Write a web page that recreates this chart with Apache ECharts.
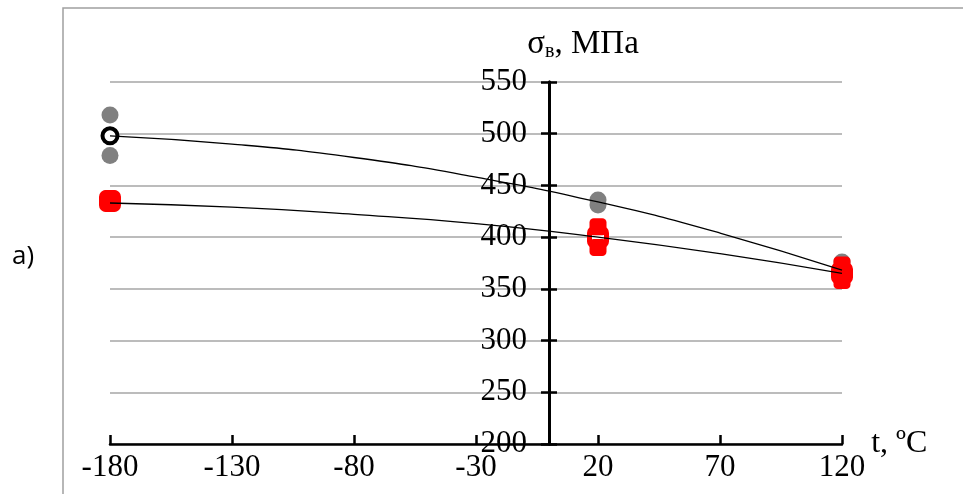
<!DOCTYPE html>
<html>
<head>
<meta charset="utf-8">
<script src="https://cdn.jsdelivr.net/npm/echarts@6/dist/echarts.min.js"></script>
<style>
  html, body { margin: 0; padding: 0; background: #fff; }
  #chart { width: 963px; height: 494px; }
</style>
</head>
<body>
<div id="chart"></div>
<script>
// x ticks (temperature, °C) and y ticks (MPa)
const xTicks = [-180, -130, -80, -30, 20, 70, 120];
const yMin = 200, yMax = 550, yStep = 50;

// individual test results
const grayPoints = [[-180, 518], [-180, 479], [20, 436], [20, 431], [120, 376]];
const blackMean = [[-180, 498]];
const redMean = [[-180, 435], [20, 400], [120, 365]];
const redPoints = [[-180, 437], [-180, 433], [20, 410], [20, 390], [120, 373], [120, 358]];

// trend curves
const upperTrend = [[-180, 498], [-130, 490], [-80, 477], [-30, 458], [20, 434], [70, 404], [120, 368]];
const lowerTrend = [[-180, 433], [-130, 429], [-80, 422], [-30, 413], [20, 400], [70, 384], [120, 365]];

const serif = "Liberation Serif";
const chart = echarts.init(document.getElementById("chart"));

// y axis sits at t = 0, inside the plot
const gridLeft = 110, gridRight = 121;
const plotW = 963 - gridLeft - gridRight;
const yAxisShift = -Math.round(plotW * (0 - xTicks[0]) / (xTicks[xTicks.length - 1] - xTicks[0]));

const option = {
  animation: false,
  backgroundColor: "#fff",
  grid: { left: gridLeft, right: gridRight, top: 82, bottom: 50 },
  graphic: [
    {
      type: "rect",
      shape: { x: 63, y: 8, width: 1000, height: 600 },
      style: { fill: "none", stroke: "#a0a0a0", lineWidth: 1.5 },
      silent: true,
    },
    {
      type: "text",
      left: 12,
      top: 244,
      style: { text: "a)", font: "26px 'Open Sans'", fill: "#000" },
    },
  ],
  xAxis: {
    type: "value",
    min: -180,
    max: 120,
    name: "t, ºC",
    nameLocation: "end",
    nameGap: 26,
    nameTextStyle: { fontFamily: serif, fontSize: 32, color: "#000", verticalAlign: "middle" },
    axisLine: { onZero: false, lineStyle: { color: "#000", width: 2.5 } },
    axisTick: { show: true, inside: true, length: 9, customValues: xTicks, lineStyle: { color: "#000", width: 2.5 } },
    axisLabel: { customValues: xTicks, fontFamily: serif, fontSize: 31, color: "#000", margin: 8 },
    splitLine: { show: false },
  },
  yAxis: [
    {
      type: "value",
      position: "left",
      offset: yAxisShift,
      min: yMin,
      max: yMax,
      interval: yStep,
      name: "{a|σ}{b|в}{a|, МПа}",
      nameLocation: "end",
      nameGap: 20,
      nameTextStyle: {
        padding: [0, 0, 0, 68],
        rich: {
          a: { fontFamily: serif, fontSize: 33, color: "#000" },
          b: { fontFamily: serif, fontSize: 20, color: "#000", padding: [16, 0, 0, 0] },
        },
      },
      axisLine: { onZero: false, lineStyle: { color: "#000", width: 3 } },
      axisTick: { show: true, length: 8, lineStyle: { color: "#000", width: 2.5 } },
      axisLabel: { fontFamily: serif, fontSize: 31, color: "#000", margin: 22 },
      splitLine: { show: true, lineStyle: { color: "#a6a6a6", width: 1.5 } },
    },
    {
      type: "value",
      position: "left",
      offset: yAxisShift,
      min: yMin,
      max: yMax,
      interval: yStep,
      axisLine: { onZero: false, lineStyle: { color: "#000", width: 3 } },
      axisTick: { show: true, inside: true, length: 8, lineStyle: { color: "#000", width: 2.5 } },
      axisLabel: { show: false },
      splitLine: { show: false },
    },
  ],
  series: [
    {
      type: "scatter",
      data: grayPoints,
      symbol: "circle",
      symbolSize: 17,
      itemStyle: { color: "#808080", opacity: 1 },
      z: 2,
    },
    {
      type: "scatter",
      data: redMean,
      symbol: "roundRect",
      symbolSize: 17,
      itemStyle: { color: "#fff", borderColor: "#ff0000", borderWidth: 5, opacity: 1 },
      z: 3,
    },
    {
      type: "scatter",
      data: redPoints,
      symbol: "roundRect",
      symbolSize: 17,
      itemStyle: { color: "#ff0000", opacity: 1 },
      z: 4,
    },
    {
      type: "scatter",
      data: blackMean,
      symbol: "circle",
      symbolSize: 15,
      itemStyle: { color: "#fff", borderColor: "#000", borderWidth: 4, opacity: 1 },
      z: 4,
    },
    {
      type: "line",
      data: upperTrend,
      smooth: true,
      showSymbol: false,
      lineStyle: { color: "#000", width: 1.3 },
      z: 5,
    },
    {
      type: "line",
      data: lowerTrend,
      smooth: true,
      showSymbol: false,
      lineStyle: { color: "#000", width: 1.3 },
      z: 5,
    },
  ],
};

chart.setOption(option);
</script>
</body>
</html>
